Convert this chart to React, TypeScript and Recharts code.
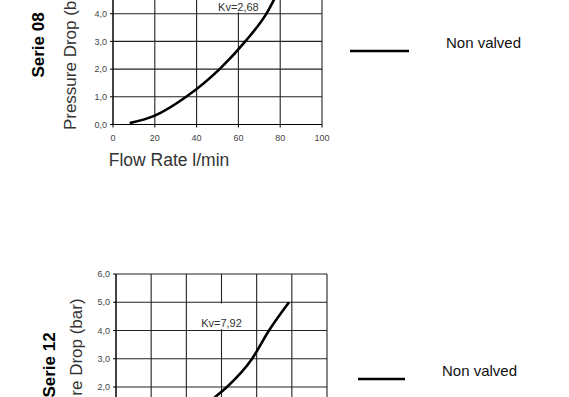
import React from 'react';
import { LineChart, Line, XAxis, YAxis, CartesianGrid, ReferenceArea, ReferenceDot } from 'recharts';

// Serie 08 (top chart)
const flow08 = [8, 20, 35, 51, 63.3, 73.4, 80];
const dp08 = [0.05, 0.32, 1.0, 2.0, 3.0, 4.0, 4.95];
const xTicks08 = [0, 20, 40, 60, 80, 100];
const yTicks08 = [0, 1, 2, 3, 4, 5];
const kv08 = 'Kv=2,68';

// Serie 12 (bottom chart)
const flow12 = [12, 30, 45, 56.3, 63.1, 77.4, 87, 98.4];
const dp12 = [0.07, 0.47, 1.05, 1.64, 2.0, 3.0, 4.0, 5.0];
const xTicks12 = [0, 20, 40, 60, 80, 100, 120];
const yTicks12 = [0, 1, 2, 3, 4, 5, 6];
const kv12 = 'Kv=7,92';

const seriesName = 'Non valved';
const xTitle = 'Flow Rate l/min';
const yTitle = 'Pressure Drop (bar)';
const title08 = 'Serie 08';
const title12 = 'Serie 12';

const FONT = '"Liberation Sans", Arial, Helvetica, sans-serif';
const fmt = (v: number) => v.toFixed(1).replace('.', ',');

const data08 = flow08.map((q, i) => ({ q, dp: dp08[i] }));
const data12 = flow12.map((q, i) => ({ q, dp: dp12[i] }));

const tickStyle = { fontSize: 9, fill: '#444', fontFamily: FONT };

function Chart(props: {
  data: { q: number; dp: number }[];
  xTicks: number[];
  yTicks: number[];
  kv: string;
  top: number;
  height: number;
  marginTop: number;
  marginRight: number;
  yWidth: number;
}) {
  const { data, xTicks, yTicks, kv, top, height, marginTop, marginRight, yWidth } = props;
  const xMax = xTicks[xTicks.length - 1];
  const yMax = yTicks[yTicks.length - 1];
  return (
    <div style={{ position: 'absolute', left: 0, top }}>
      <LineChart
        width={569}
        height={height}
        data={data}
        margin={{ top: marginTop, right: marginRight, left: 0, bottom: 0 }}
      >
        <CartesianGrid stroke="#222" strokeWidth={1.1} horizontalValues={yTicks} verticalValues={xTicks} />
        <XAxis
          dataKey="q"
          type="number"
          domain={[0, xMax]}
          ticks={xTicks}
          height={24}
          tickSize={3}
          tickMargin={7}
          tick={tickStyle}
          stroke="#000"
          interval={0}
        />
        <YAxis
          type="number"
          domain={[0, yMax]}
          ticks={yTicks}
          width={yWidth}
          tickSize={3}
          tickMargin={3}
          tick={tickStyle}
          tickFormatter={fmt}
          stroke="#000"
          interval={0}
          allowDataOverflow
        />
        <ReferenceArea x1={50} x2={70} y1={4.04} y2={4.96} fill="#fff" fillOpacity={1} stroke="none" />
        <ReferenceDot
          x={60}
          y={4.25}
          r={0}
          fill="none"
          stroke="none"
          label={{ value: kv, position: 'center', fontSize: 11, fill: '#333', fontFamily: FONT }}
        />
        <Line
          type="monotone"
          dataKey="dp"
          stroke="#000"
          strokeWidth={2.6}
          dot={false}
          isAnimationActive={false}
        />
      </LineChart>
    </div>
  );
}

export default function App() {
  return (
    <div
      style={{
        position: 'fixed',
        left: 0,
        top: 0,
        width: 569,
        height: 397,
        overflow: 'hidden',
        background: '#fff',
        fontFamily: FONT,
      }}
    >
      <Chart
        data={data08}
        xTicks={xTicks08}
        yTicks={yTicks08}
        kv={kv08}
        top={-30}
        height={178.5}
        marginTop={16}
        marginRight={247}
        yWidth={113}
      />
      <Chart
        data={data12}
        xTicks={xTicks12}
        yTicks={yTicks12}
        kv={kv12}
        top={264}
        height={203.5}
        marginTop={10}
        marginRight={242}
        yWidth={116}
      />
      <svg width={569} height={397} style={{ position: 'absolute', left: 0, top: 0, pointerEvents: 'none' }}>
        <text x={0} y={0} transform="translate(44,45) rotate(-90)" textAnchor="middle" fontSize={17} fontWeight="bold" fill="#000" fontFamily={FONT}>
          {title08}
        </text>
        <text x={0} y={0} transform="translate(76,55) rotate(-90)" textAnchor="middle" fontSize={17} fill="#333" fontFamily={FONT}>
          {yTitle}
        </text>
        <text x={169} y={166} textAnchor="middle" fontSize={17.5} fill="#333" fontFamily={FONT}>
          {xTitle}
        </text>
        <line x1={350} x2={409} y1={51} y2={51} stroke="#000" strokeWidth={2.5} />
        <text x={446} y={48} fontSize={15} fill="#111" fontFamily={FONT}>
          {seriesName}
        </text>
        <text x={0} y={0} transform="translate(55,365) rotate(-90)" textAnchor="middle" fontSize={17} fontWeight="bold" fill="#000" fontFamily={FONT}>
          {title12}
        </text>
        <text x={0} y={0} transform="translate(82,373.5) rotate(-90)" textAnchor="middle" fontSize={17} fill="#333" fontFamily={FONT}>
          {yTitle}
        </text>
        <line x1={358} x2={405} y1={379} y2={379} stroke="#000" strokeWidth={2.5} />
        <text x={442} y={376} fontSize={15} fill="#111" fontFamily={FONT}>
          {seriesName}
        </text>
      </svg>
    </div>
  );
}
